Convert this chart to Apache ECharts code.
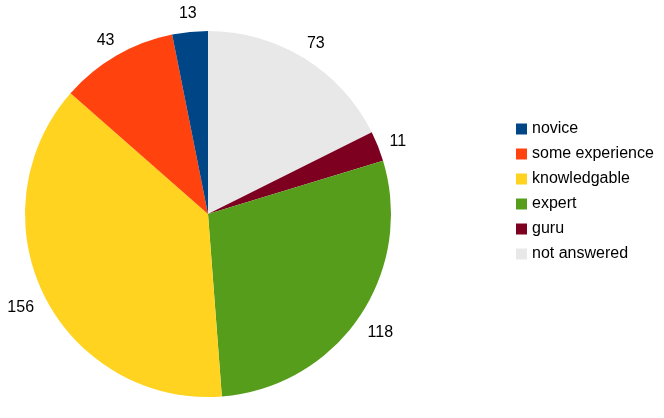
<!DOCTYPE html>
<html>
<head>
<meta charset="utf-8">
<script src="https://cdn.jsdelivr.net/npm/echarts@6/dist/echarts.min.js"></script>
<style>html,body{margin:0;padding:0;background:#fff}#c{width:664px;height:418px}</style>
</head>
<body>
<div id="c"></div>
<script>
// Slices in drawing order (clockwise from 12 o'clock)
const categories = ['not answered', 'guru', 'expert', 'knowledgable', 'some experience', 'novice'];
const values = [73, 11, 118, 156, 43, 13];
const colors = ['#e8e8e8', '#7e0021', '#579d1c', '#ffd320', '#ff420e', '#004586'];
// Legend order as shown in the reference
const legendOrder = ['novice', 'some experience', 'knowledgable', 'expert', 'guru', 'not answered'];

const chart = echarts.init(document.getElementById('c'), null, {renderer: 'canvas'});
const FONT = '"Liberation Sans", Arial, sans-serif';
const GAP = 13;

chart.setOption({
  animation: false,
  backgroundColor: '#ffffff',
  color: colors,
  legend: {
    orient: 'vertical',
    left: 516,
    top: 121,
    padding: 0,
    itemWidth: 11,
    itemHeight: 11,
    itemGap: 9,
    icon: 'rect',
    data: legendOrder,
    textStyle: {fontFamily: FONT, fontSize: 16, color: '#000'}
  },
  series: [{
    type: 'pie',
    center: [208, 214],
    radius: 183,
    startAngle: 90,
    clockwise: true,
    avoidLabelOverlap: false,
    data: categories.map((c, i) => ({name: c, value: values[i]})),
    itemStyle: {borderWidth: 0},
    label: {
      show: true,
      position: 'outside',
      formatter: '{c}',
      fontFamily: FONT,
      fontSize: 16,
      color: '#000'
    },
    labelLine: {show: true, length: 10, length2: 0, lineStyle: {opacity: 0, width: 0}},
    labelLayout: function (p) {
      const pts = p.labelLinePoints;
      if (!pts) return {};
      const x0 = pts[0][0], y0 = pts[0][1];
      let ux = pts[1][0] - x0, uy = pts[1][1] - y0;
      const n = Math.sqrt(ux * ux + uy * uy) || 1;
      ux /= n; uy /= n;
      const w = p.labelRect.width, h = p.labelRect.height;
      return {
        x: x0 + ux * GAP + ux * w / 2,
        y: y0 + uy * GAP + uy * h / 2 + 3,
        align: 'center',
        verticalAlign: 'middle'
      };
    },
    emphasis: {disabled: true}
  }]
});
</script>
</body>
</html>
